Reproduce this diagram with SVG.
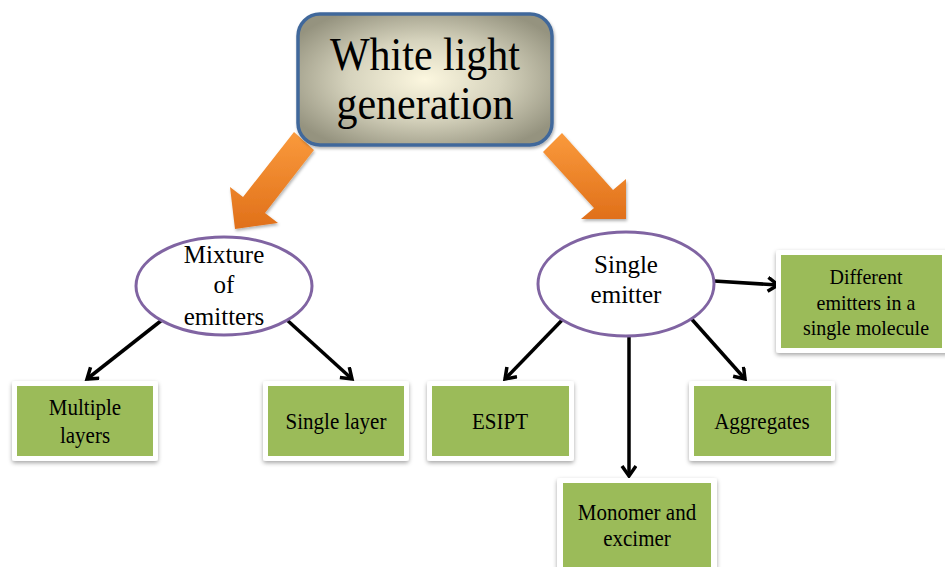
<svg xmlns="http://www.w3.org/2000/svg" width="945" height="567" viewBox="0 0 945 567">
<style>
  text { font-family: "Liberation Serif", "Times New Roman", serif; fill: #000; text-anchor: middle; }
  .title { font-size: 42px; }
  .ell { font-size: 25px; }
  .box { font-size: 21px; }
  .oval { fill: #ffffff; stroke: #8064a2; stroke-width: 3; }
  .outer { fill: #ffffff; filter: url(#sh); }
  .green { fill: #9bbb59; }
  .conn { stroke: #000; stroke-width: 3.5; fill: none; marker-end: url(#ah); }
  .big { fill: url(#og); filter: url(#sh2); }
</style>
<defs>
  <radialGradient id="tg" cx="0.5" cy="0.5" r="0.6">
    <stop offset="0" stop-color="#fcf7df"/>
    <stop offset="0.5" stop-color="#d6d3bd"/>
    <stop offset="1" stop-color="#95937f"/>
  </radialGradient>
  <linearGradient id="og" x1="0" y1="0" x2="0" y2="1">
    <stop offset="0" stop-color="#fa9a3c"/>
    <stop offset="1" stop-color="#e0701a"/>
  </linearGradient>
  <filter id="sh" x="-10%" y="-10%" width="120%" height="130%">
    <feDropShadow dx="0" dy="2" stdDeviation="2" flood-color="#000" flood-opacity="0.35"/>
  </filter>
  <filter id="sh2" x="-20%" y="-20%" width="140%" height="140%">
    <feDropShadow dx="1" dy="2" stdDeviation="1.5" flood-color="#000" flood-opacity="0.3"/>
  </filter>
  <marker id="ah" markerUnits="userSpaceOnUse" markerWidth="20" markerHeight="20" refX="12" refY="8" orient="auto">
    <path d="M2,1 L12,8 L2,15" fill="none" stroke="#000" stroke-width="3.5" stroke-linejoin="miter"/>
  </marker>
</defs>

<g id="connectors">
  <polygon id="arrow-left" class="big" points="294,132 314,150 265,213 278,223 235,229 230,187 243,197"/>
  <polygon id="arrow-right" class="big" points="543,152 562,133 613,190 626,179 626,219 581,219 594,208"/>
  <line class="conn" x1="162" y1="320" x2="87" y2="379"/>
  <line class="conn" x1="287" y1="320" x2="352" y2="379"/>
  <line class="conn" x1="566" y1="316" x2="505" y2="379"/>
  <line class="conn" x1="629" y1="327" x2="629" y2="476"/>
  <line class="conn" x1="688" y1="315" x2="745" y2="379"/>
  <line class="conn" x1="714" y1="281" x2="778" y2="285"/>
</g>

<g id="title">
  <rect x="298" y="14" width="254" height="131" rx="22" ry="22" fill="url(#tg)" stroke="#41689b" stroke-width="3.5" filter="url(#sh2)"/>
  <text class="title" x="425" y="0" transform="translate(0,70) scale(1,1.12)">White light</text>
  <text class="title" x="425" y="0" transform="translate(0,119) scale(1,1.12)">generation</text>
</g>

<g id="mixture">
  <ellipse class="oval" cx="224" cy="286" rx="88" ry="49"/>
  <text class="ell" x="224" y="263">Mixture</text>
  <text class="ell" x="224" y="293">of</text>
  <text class="ell" x="224" y="325">emitters</text>
</g>

<g id="single-emitter">
  <ellipse class="oval" cx="626" cy="284" rx="88" ry="52"/>
  <text class="ell" x="626" y="273">Single</text>
  <text class="ell" x="626" y="303">emitter</text>
</g>

<g id="multiple-layers">
  <rect class="outer" x="12" y="381" width="146" height="80" rx="3"/>
  <rect class="green" x="17" y="386" width="136" height="70"/>
  <text class="box" x="85" y="0" transform="translate(0,415) scale(1,1.1)">Multiple</text>
  <text class="box" x="85" y="0" transform="translate(0,443) scale(1,1.1)">layers</text>
</g>

<g id="single-layer">
  <rect class="outer" x="263" y="381" width="146" height="80" rx="3"/>
  <rect class="green" x="268" y="386" width="136" height="70"/>
  <text class="box" x="336" y="0" transform="translate(0,429) scale(1,1.1)">Single layer</text>
</g>

<g id="esipt">
  <rect class="outer" x="427" y="381" width="147" height="80" rx="3"/>
  <rect class="green" x="432" y="386" width="137" height="70"/>
  <text class="box" x="500" y="0" transform="translate(0,429) scale(1,1.1)">ESIPT</text>
</g>

<g id="aggregates">
  <rect class="outer" x="689" y="381" width="146" height="80" rx="3"/>
  <rect class="green" x="694" y="386" width="137" height="70"/>
  <text class="box" x="762" y="0" transform="translate(0,429) scale(1,1.1)">Aggregates</text>
</g>

<g id="monomer">
  <rect class="outer" x="557" y="478" width="160" height="100" rx="3"/>
  <rect class="green" x="563" y="483" width="148" height="90"/>
  <text class="box" x="637" y="0" transform="translate(0,520) scale(1,1.1)">Monomer and</text>
  <text class="box" x="637" y="0" transform="translate(0,546) scale(1,1.1)">excimer</text>
</g>

<g id="different">
  <rect class="outer" x="776" y="250" width="175" height="103" rx="3"/>
  <rect class="green" x="781" y="255" width="161" height="93"/>
  <text class="box" x="866" y="0" transform="translate(0,284) scale(1,1.1)" style="font-size:20px">Different</text>
  <text class="box" x="866" y="0" transform="translate(0,310) scale(1,1.1)" style="font-size:20px">emitters in a</text>
  <text class="box" x="866" y="0" transform="translate(0,335) scale(1,1.1)" style="font-size:20px">single molecule</text>
</g>
</svg>
